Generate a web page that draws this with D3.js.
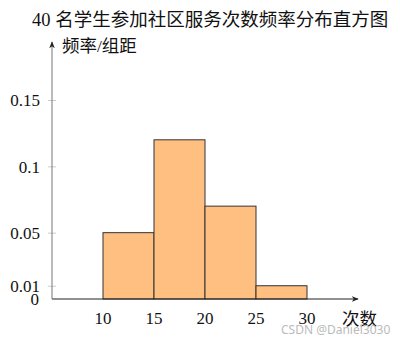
<!DOCTYPE html>
<html>
<head>
<meta charset="utf-8">
<script src="https://cdn.jsdelivr.net/npm/d3@7"></script>
<style>
  body { margin: 0; background: #fff; }
  text { font-family: "Liberation Serif", "Noto Sans CJK SC", serif; }
</style>
</head>
<body>
<div id="chart"></div>
<script>
// histogram: class edges and frequency/class width
const BIN_START = [10, 15, 20, 25];
const BIN_END = [15, 20, 25, 30];
const DENSITY = [0.05, 0.12, 0.07, 0.01];
const X_TICKS = [10, 15, 20, 25, 30];
const Y_TICKS = [0.01, 0.05, 0.1, 0.15];

const width = 400, height = 344;

const svg = d3.select('#chart').append('svg')
  .attr('width', width)
  .attr('height', height);

const x = d3.scaleLinear().domain([5, 35]).range([52, 358]);
const y = d3.scaleLinear().domain([0, 0.15]).range([299, 100]);

// title
svg.append('text')
  .attr('x', 32).attr('y', 26)
  .style('font-size', '18.5px')
  .style('fill', '#111')
  .text('40 名学生参加社区服务次数频率分布直方图');

// bars
svg.append('g').selectAll('rect')
  .data(DENSITY)
  .join('rect')
  .attr('x', (d, i) => x(BIN_START[i]))
  .attr('y', d => y(d))
  .attr('width', (d, i) => x(BIN_END[i]) - x(BIN_START[i]))
  .attr('height', d => y(0) - y(d))
  .attr('fill', '#ffbf80')
  .attr('stroke', '#333')
  .attr('stroke-width', 1);

// y axis ticks (light, both sides)
const yAxis = svg.append('g')
  .attr('transform', `translate(${x(5)},0)`)
  .call(d3.axisLeft(y).tickValues(Y_TICKS).tickSize(0).tickFormat(''));
yAxis.select('.domain').remove();
yAxis.selectAll('.tick line').remove();
yAxis.selectAll('.tick').append('line')
  .attr('x1', -4).attr('x2', 4)
  .attr('stroke', '#ccc');
yAxis.selectAll('.tick').append('text')
  .attr('x', -12)
  .attr('dy', '0.35em')
  .attr('text-anchor', 'end')
  .style('font-size', '17px')
  .style('fill', '#111')
  .text(d => d3.format('~g')(d));

// zero label
svg.append('text')
  .attr('x', 39).attr('y', y(0) + 6)
  .attr('text-anchor', 'end')
  .style('font-size', '17px')
  .style('fill', '#111')
  .text('0');

// x tick labels
svg.append('g').selectAll('text')
  .data(X_TICKS)
  .join('text')
  .attr('x', d => x(d))
  .attr('y', y(0) + 25)
  .attr('text-anchor', 'middle')
  .style('font-size', '17px')
  .style('fill', '#111')
  .text(d => d);

// arrows
const defs = svg.append('defs');
defs.append('marker')
  .attr('id', 'arrow')
  .attr('viewBox', '0 0 10 10')
  .attr('refX', 9).attr('refY', 5)
  .attr('markerWidth', 7).attr('markerHeight', 7)
  .attr('orient', 'auto')
  .append('path')
  .attr('d', 'M0,1 L10,5 L0,9 L3,5 Z')
  .attr('fill', '#222');

svg.append('line')
  .attr('x1', x(5)).attr('y1', y(0))
  .attr('x2', 358).attr('y2', y(0))
  .attr('stroke', '#222')
  .attr('marker-end', 'url(#arrow)');

svg.append('line')
  .attr('x1', x(5)).attr('y1', y(0))
  .attr('x2', x(5)).attr('y2', 42)
  .attr('stroke', '#777')
  .attr('marker-end', 'url(#arrow)');

// axis titles
svg.append('text')
  .attr('x', 62).attr('y', 52)
  .style('font-size', '17.5px')
  .style('fill', '#111')
  .text('频率/组距');

svg.append('text')
  .attr('x', 342).attr('y', 325)
  .style('font-size', '17.5px')
  .style('fill', '#111')
  .text('次数');

// watermark
svg.append('text')
  .attr('x', 281).attr('y', 334)
  .style('font-family', '"Noto Sans", sans-serif')
  .style('font-size', '12px')
  .style('fill', '#bbb')
  .text('CSDN @Daniel3030');
</script>
</body>
</html>
